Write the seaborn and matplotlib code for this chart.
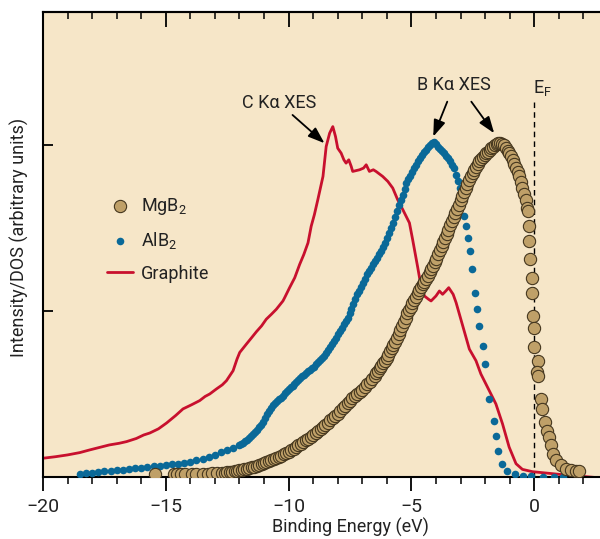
import matplotlib
matplotlib.use("Agg")
import matplotlib.pyplot as plt
import seaborn as sns
import numpy as np

# ---- Graphite C K-alpha emission (line) ----
graphite_x = [-20.0, -19.5, -19.0, -18.5, -18.1, -17.7, -17.3, -16.9, -16.6, -16.2,
              -15.9, -15.65, -15.3, -14.97, -14.6, -14.3, -13.95, -13.62, -13.4, -13.21,
              -12.94, -12.7, -12.53, -12.26, -12.1, -11.99, -11.72, -11.5, -11.31, -11.1,
              -10.91, -10.7, -10.5, -10.23, -10.16, -9.96, -9.75, -9.55, -9.38, -9.21,
              -9.08, -8.95, -8.81, -8.6, -8.47, -8.33, -8.2, -8.09, -8.0, -7.86,
              -7.75, -7.66, -7.55, -7.45, -7.39, -7.25, -7.11, -6.95, -6.84, -6.71,
              -6.55, -6.44, -6.17, -5.96, -5.76, -5.56, -5.35, -5.08, -4.95, -4.74,
              -4.61, -4.47, -4.3, -4.2, -4.0, -3.86, -3.73, -3.6, -3.48, -3.3,
              -3.18, -2.91, -2.64, -2.37, -2.17, -1.83, -1.56, -1.29, -1.02, -0.74,
              -0.48, -0.07, 0.61, 1.29, 1.96, 2.65, 5.0]
graphite_y = [0.113, 0.122, 0.133, 0.147, 0.163, 0.178, 0.193, 0.203, 0.213, 0.232,
              0.253, 0.265, 0.29, 0.325, 0.37, 0.41, 0.435, 0.46, 0.485, 0.50,
              0.53, 0.555, 0.58, 0.64, 0.71, 0.75, 0.80, 0.84, 0.875, 0.91,
              0.95, 0.98, 1.01, 1.06, 1.08, 1.14, 1.20, 1.28, 1.34, 1.41,
              1.51, 1.58, 1.67, 1.81, 1.99, 2.07, 2.11, 2.05, 1.98, 1.95,
              1.91, 1.89, 1.91, 1.87, 1.84, 1.845, 1.85, 1.86, 1.88, 1.84,
              1.85, 1.84, 1.81, 1.78, 1.74, 1.67, 1.61, 1.53, 1.43, 1.26,
              1.15, 1.09, 1.07, 1.06, 1.09, 1.12, 1.10, 1.12, 1.14, 1.10,
              1.05, 0.91, 0.77, 0.70, 0.62, 0.52, 0.44, 0.32, 0.18, 0.08,
              0.046, 0.032, 0.022, 0.012, 0.004, -0.005, -0.02]

# ---- AlB2 B K-alpha emission (small dots) ----
alb2_x = [-18.50, -18.25, -18.00, -17.75, -17.50, -17.25, -17.00, -16.75, -16.50, -16.25,
          -16.00, -15.75, -15.50, -15.25, -15.00, -14.75, -14.50, -14.25, -14.00, -13.75,
          -13.50, -13.25, -13.00, -12.75, -12.50, -12.25, -12.00,
          -11.92, -11.84, -11.76, -11.68, -11.60, -11.52, -11.44, -11.36, -11.28, -11.20,
          -11.12, -11.04, -10.96, -10.88, -10.80, -10.72, -10.64, -10.56, -10.48, -10.40,
          -10.32, -10.24, -10.16, -10.08, -10.00, -9.92, -9.84, -9.76, -9.68, -9.60,
          -9.52, -9.44, -9.36, -9.28, -9.20, -9.12, -9.04, -8.96, -8.88, -8.80,
          -8.72, -8.64, -8.56, -8.48, -8.40, -8.32, -8.24, -8.16, -8.08, -8.00,
          -7.92, -7.84, -7.76, -7.68, -7.60, -7.52, -7.44, -7.36, -7.28, -7.20,
          -7.12, -7.04, -6.96, -6.88, -6.80, -6.72, -6.64, -6.56, -6.48, -6.40,
          -6.32, -6.24, -6.16, -6.08, -6.00, -5.92, -5.84, -5.76, -5.68, -5.60,
          -5.52, -5.44, -5.36, -5.28, -5.20, -5.12, -5.04, -4.96, -4.88, -4.80,
          -4.72, -4.64, -4.56, -4.48, -4.40, -4.32, -4.24, -4.16, -4.08, -4.00,
          -3.92, -3.84, -3.76, -3.68, -3.60, -3.52, -3.44, -3.36, -3.28, -3.20,
          -3.12, -3.04,
          -2.85, -2.78, -2.68, -2.61, -2.55, -2.41, -2.34, -2.24, -2.07, -1.99,
          -1.86, -1.65, -1.57, -1.48, -1.31, -1.10, -0.77, -0.45, -0.12, 0.34,
          0.81, 1.19]
alb2_y = [0.018, 0.022, 0.026, 0.030, 0.034, 0.038, 0.041, 0.045, 0.049, 0.053,
          0.057, 0.061, 0.064, 0.068, 0.072, 0.077, 0.081, 0.086, 0.093, 0.101,
          0.110, 0.122, 0.135, 0.148, 0.160, 0.176, 0.195,
          0.20, 0.205, 0.215, 0.222, 0.235, 0.245, 0.258, 0.27, 0.285, 0.30,
          0.315, 0.33, 0.355, 0.38, 0.40, 0.418, 0.432, 0.445, 0.458, 0.468,
          0.478, 0.49, 0.503, 0.516, 0.53, 0.54, 0.55, 0.563, 0.575, 0.585,
          0.597, 0.607, 0.617, 0.627, 0.636, 0.645, 0.655, 0.665, 0.678, 0.69,
          0.703, 0.716, 0.73, 0.748, 0.765, 0.782, 0.80, 0.82, 0.84, 0.86,
          0.88, 0.90, 0.92, 0.94, 0.96, 0.985, 1.01, 1.04, 1.07, 1.10,
          1.12, 1.145, 1.17, 1.195, 1.22, 1.24, 1.26, 1.28, 1.30, 1.32,
          1.34, 1.36, 1.385, 1.41, 1.44, 1.47, 1.50, 1.53, 1.565, 1.60,
          1.635, 1.67, 1.70, 1.735, 1.77, 1.795, 1.815, 1.835, 1.86, 1.88,
          1.90, 1.92, 1.94, 1.955, 1.97, 1.985, 2.00, 2.01, 2.02, 2.005,
          1.99, 1.975, 1.965, 1.95, 1.935, 1.92, 1.90, 1.88, 1.86, 1.82,
          1.78, 1.74,
          1.57, 1.51, 1.44, 1.36, 1.25, 1.11, 1.01, 0.91, 0.79, 0.68,
          0.47, 0.335, 0.247, 0.158, 0.076, 0.038, 0.018, 0.008, 0.008, 0.002,
          0.0, 0.0]

# ---- MgB2 B K-alpha emission (large circles) ----
mgb2_x = [-15.45, -14.68, -14.55, -14.40, -14.20, -13.95, -13.75, -13.50, -13.30, -13.10,
          -12.90, -12.70,
          -12.6, -12.5, -12.4, -12.3, -12.2, -12.1, -12.0, -11.9, -11.8, -11.7,
          -11.6, -11.5, -11.4, -11.3, -11.2, -11.1, -11.0, -10.9, -10.8, -10.7,
          -10.6, -10.5, -10.4, -10.3, -10.2, -10.1, -10.0, -9.9, -9.8, -9.7,
          -9.6, -9.5, -9.4, -9.3, -9.2, -9.1, -9.0, -8.9, -8.8, -8.7,
          -8.6, -8.5, -8.4, -8.3, -8.2, -8.1, -8.0, -7.9, -7.8, -7.7,
          -7.6, -7.5, -7.4, -7.3, -7.2, -7.1, -7.0, -6.9, -6.8, -6.7, -6.6,
          -6.50, -6.43, -6.36, -6.29, -6.22, -6.15, -6.08, -6.01, -5.94, -5.87,
          -5.80, -5.73, -5.66, -5.59, -5.52, -5.45, -5.38, -5.31, -5.24, -5.17,
          -5.10, -5.03, -4.96, -4.89, -4.82, -4.75, -4.68, -4.61, -4.54, -4.47,
          -4.40, -4.33, -4.26, -4.19, -4.12, -4.05, -3.98, -3.91, -3.84, -3.77,
          -3.70, -3.63, -3.56, -3.49, -3.42, -3.35, -3.28, -3.21, -3.14, -3.07,
          -3.00, -2.93, -2.86, -2.79, -2.72, -2.65, -2.58, -2.51, -2.44, -2.37,
          -2.30, -2.23, -2.16, -2.09, -2.02, -1.95, -1.88, -1.81, -1.74, -1.67,
          -1.60, -1.53, -1.46, -1.39,
          -1.30, -1.22, -1.15, -1.08, -1.02, -0.95, -0.88, -0.81, -0.74, -0.67,
          -0.61, -0.54, -0.48, -0.41, -0.34, -0.29, -0.27, -0.23,
          -0.20, -0.16, -0.09, -0.07, -0.04, 0.00, 0.01, 0.17, 0.11, 0.17,
          0.27, 0.31, 0.43, 0.52, 0.61, 0.68, 0.77, 0.88, 1.08, 1.29,
          1.49, 1.69, 1.83]
mgb2_y = [0.02, 0.02, 0.02, 0.02, 0.02, 0.02, 0.02, 0.02, 0.02, 0.022,
          0.024, 0.026,
          0.027, 0.028, 0.030, 0.032, 0.034, 0.037, 0.040, 0.043, 0.046, 0.050,
          0.054, 0.058, 0.063, 0.068, 0.073, 0.078, 0.084, 0.090, 0.096, 0.102,
          0.108, 0.115, 0.122, 0.129, 0.136, 0.144, 0.152, 0.161, 0.170, 0.180,
          0.190, 0.200, 0.210, 0.220, 0.230, 0.241, 0.252, 0.264, 0.276, 0.289,
          0.302, 0.315, 0.328, 0.341, 0.354, 0.368, 0.382, 0.397, 0.413, 0.43,
          0.445, 0.46, 0.473, 0.486, 0.499, 0.512, 0.525, 0.54, 0.557, 0.575, 0.592,
          0.61, 0.625, 0.64, 0.655, 0.67, 0.685, 0.70, 0.718, 0.737, 0.756,
          0.775, 0.795, 0.815, 0.837, 0.86, 0.885, 0.91, 0.935, 0.96, 0.985,
          1.005, 1.025, 1.045, 1.065, 1.085, 1.105, 1.125, 1.143, 1.16, 1.177,
          1.195, 1.213, 1.232, 1.252, 1.272, 1.292, 1.315, 1.34, 1.365, 1.39,
          1.415, 1.44, 1.465, 1.49, 1.515, 1.54, 1.565, 1.59, 1.615, 1.64,
          1.665, 1.69, 1.715, 1.74, 1.765, 1.79, 1.81, 1.83, 1.85, 1.868,
          1.885, 1.90, 1.912, 1.924, 1.936, 1.948, 1.96, 1.97, 1.98, 1.99,
          1.998, 2.005, 2.01, 2.012,
          2.008, 2.0, 1.98, 1.965, 1.95, 1.93, 1.91, 1.885, 1.86, 1.835,
          1.81, 1.775, 1.74, 1.705, 1.67, 1.62, 1.60, 1.51,
          1.42, 1.31, 1.20, 1.11, 0.97, 0.90, 0.785, 0.70, 0.63, 0.61,
          0.47, 0.41, 0.33, 0.28, 0.24, 0.19, 0.14, 0.10, 0.07, 0.046,
          0.042, 0.038, 0.038]

x_ticks = [-20, -15, -10, -5, 0]
x_tick_labels = ["\u221220", "\u221215", "\u221210", "\u22125", "0"]

BG = "#f6e6c8"
TAN = "#bfa068"
TAN_EDGE = "#45371f"
BLUE = "#0a6998"
RED = "#c8102e"
INK = "#222222"

sns.set_theme(style="ticks")
plt.rcParams["font.family"] = ["Roboto", "DejaVu Sans"]
plt.rcParams["mathtext.default"] = "regular"
plt.rcParams["axes.unicode_minus"] = True

fig = plt.figure(figsize=(6.0, 5.39), dpi=100)
# the energy axis runs on to +5 eV, past the right border of the figure
ax = fig.add_axes([43 / 600, 62 / 539, 614 / 600, 465 / 539])
ax.set_facecolor(BG)

sns.lineplot(x=graphite_x, y=graphite_y, ax=ax, sort=False, estimator=None,
             color=RED, lw=2.0, label="Graphite", zorder=2)
sns.scatterplot(x=alb2_x, y=alb2_y, ax=ax, color=BLUE, s=30, linewidth=0,
                label="AlB$_2$", zorder=3)
sns.scatterplot(x=mgb2_x, y=mgb2_y, ax=ax, color=TAN, s=78, edgecolor=TAN_EDGE,
                linewidth=0.8, label="MgB$_2$", zorder=4)

ax.set_xlim(-20, 5)
ax.set_ylim(0, 2.8)

# Fermi level marker
ef_top = 2.27
ax.vlines(0, 0, ef_top, colors="black", linestyles=(0, (4, 3)), lw=1.0, zorder=1)
ax.text(-0.05, 2.34, "E$_F$", fontsize=13, ha="left", va="center", color=INK)

arrow_kw = dict(arrowstyle="-|>,head_length=0.5,head_width=0.18", color="black",
                lw=1.3, mutation_scale=20, shrinkA=0, shrinkB=0)
ax.annotate("", xy=(-8.54, 2.01), xytext=(-9.84, 2.18), arrowprops=arrow_kw)
ax.text(-10.37, 2.25, "C K\u03b1 XES", fontsize=13, ha="center", va="center", color=INK)
ax.annotate("", xy=(-4.11, 2.05), xytext=(-3.54, 2.26), arrowprops=arrow_kw)
ax.annotate("", xy=(-1.63, 2.07), xytext=(-2.56, 2.26), arrowprops=arrow_kw)
ax.text(-3.29, 2.36, "B K\u03b1 XES", fontsize=13, ha="center", va="center", color=INK)

# spines and ticks
for side in ["left", "top", "bottom"]:
    ax.spines[side].set_visible(True)
    ax.spines[side].set_color("black")
    ax.spines[side].set_linewidth(1.5)
ax.spines["right"].set_visible(False)

ax.set_xticks(x_ticks)
ax.set_xticklabels(x_tick_labels)
ax.set_xticks(np.arange(-20, 6, 1), minor=True)
ax.set_yticks([0, 1, 2])
ax.set_yticklabels([])
ax.tick_params(axis="x", which="major", direction="out", length=10, width=1.3,
               labelsize=14, pad=5, colors="black", labelcolor=INK)
ax.tick_params(axis="x", which="minor", direction="out", length=5, width=1.1,
               colors="black")
ax.tick_params(axis="y", which="major", direction="in", length=7, width=1.3,
               colors="black")
# mirrored ticks along the top border
top = ax.secondary_xaxis("top")
top.set_xticks(x_ticks)
top.set_xticklabels([])
top.set_xticks(np.arange(-20, 6, 1), minor=True)
top.tick_params(which="major", direction="in", length=11, width=1.3, colors="black")
top.tick_params(which="minor", direction="in", length=5, width=1.1, colors="black")
top.spines["top"].set_linewidth(1.5)

ax.set_xlabel("Binding Energy (eV)", fontsize=13, color=INK, labelpad=1.5)
ax.set_ylabel("Intensity/DOS (arbitrary units)", fontsize=13, color=INK)
ax.yaxis.set_label_coords(-0.022, 0.516)

handles, labels = ax.get_legend_handles_labels()
order = [labels.index(l) for l in ["MgB$_2$", "AlB$_2$", "Graphite"]]
ax.legend([handles[i] for i in order], [labels[i] for i in order],
          loc="upper left", bbox_to_anchor=(0.104, 0.605), frameon=False,
          fontsize=13, handlelength=1.45, handletextpad=0.45, labelspacing=0.75,
          borderpad=0, borderaxespad=0, labelcolor=INK)

fig.savefig("out.png", dpi=100, facecolor="white")
